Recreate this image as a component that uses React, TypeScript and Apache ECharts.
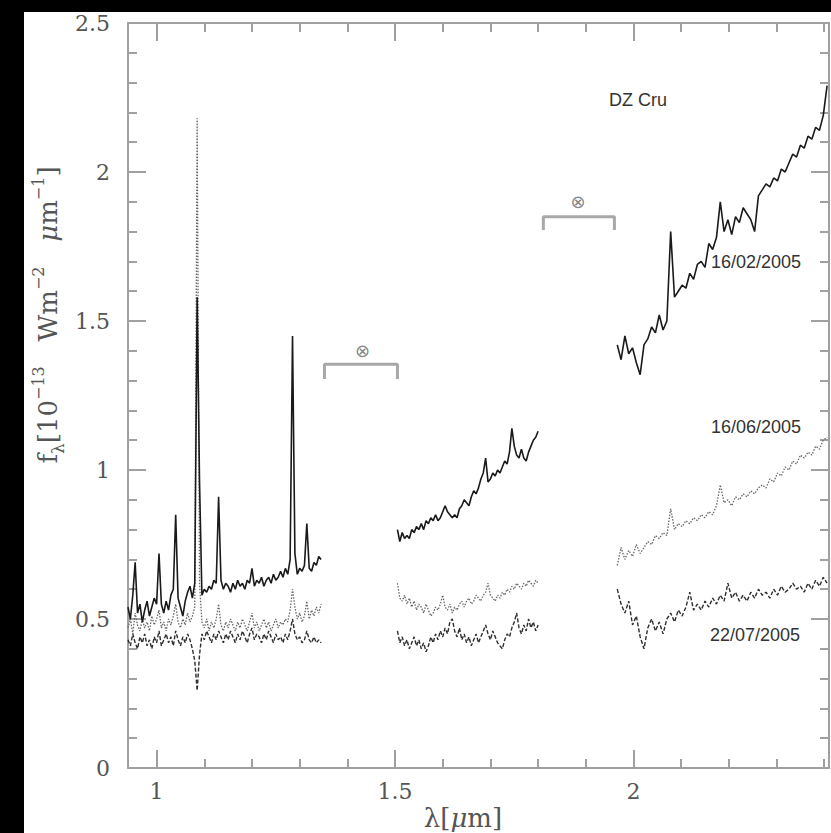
import React, { useEffect, useRef } from "react";
import * as echarts from "echarts";

// Wavelength grids (µm) for the three observed bands
const waveJ = [0.940,0.945,0.950,0.955,0.960,0.965,0.970,0.975,0.980,0.985,0.990,0.995,1.000,1.005,1.010,1.015,1.020,1.025,1.030,1.035,1.040,1.045,1.050,1.055,1.060,1.065,1.070,1.075,1.080,1.085,1.090,1.095,1.100,1.105,1.110,1.115,1.120,1.125,1.130,1.135,1.140,1.145,1.150,1.155,1.160,1.165,1.170,1.175,1.180,1.185,1.190,1.195,1.200,1.205,1.210,1.215,1.220,1.225,1.230,1.235,1.240,1.245,1.250,1.255,1.260,1.265,1.270,1.275,1.280,1.285,1.290,1.295,1.300,1.305,1.310,1.315,1.320,1.325,1.330,1.335,1.340,1.345];
const waveH = [1.505,1.510,1.515,1.520,1.525,1.530,1.535,1.540,1.545,1.550,1.555,1.560,1.565,1.570,1.575,1.580,1.585,1.590,1.595,1.600,1.605,1.610,1.615,1.620,1.625,1.630,1.635,1.640,1.645,1.650,1.655,1.660,1.665,1.670,1.675,1.680,1.685,1.690,1.695,1.700,1.705,1.710,1.715,1.720,1.725,1.730,1.735,1.740,1.745,1.750,1.755,1.760,1.765,1.770,1.775,1.780,1.785,1.790,1.795,1.800];
const waveK = [1.966,1.974,1.982,1.990,1.998,2.006,2.014,2.022,2.030,2.038,2.046,2.054,2.062,2.070,2.078,2.086,2.094,2.102,2.110,2.118,2.126,2.134,2.142,2.150,2.158,2.166,2.174,2.182,2.190,2.198,2.206,2.214,2.222,2.230,2.238,2.246,2.254,2.262,2.270,2.278,2.286,2.294,2.302,2.310,2.318,2.326,2.334,2.342,2.350,2.358,2.366,2.374,2.382,2.390,2.398,2.406];

// 16/02/2005 (solid)
const febJ = [0.54,0.50,0.58,0.69,0.52,0.55,0.49,0.53,0.56,0.51,
  0.54,0.57,0.55,0.72,0.55,0.52,0.56,0.53,0.58,0.60,
  0.85,0.57,0.54,0.51,0.56,0.59,0.61,0.57,0.62,1.58,
  0.96,0.58,0.60,0.59,0.61,0.60,0.63,0.62,0.91,0.63,
  0.60,0.62,0.61,0.59,0.62,0.60,0.63,0.61,0.62,0.60,
  0.63,0.62,0.67,0.61,0.63,0.62,0.64,0.61,0.63,0.64,
  0.62,0.65,0.63,0.64,0.66,0.64,0.67,0.65,0.70,1.45,
  0.72,0.65,0.67,0.66,0.68,0.82,0.67,0.66,0.69,0.68,
  0.71,0.70];
const febH = [0.80,0.76,0.79,0.77,0.78,0.77,0.80,0.79,0.81,0.80,
  0.82,0.80,0.83,0.82,0.84,0.83,0.85,0.83,0.84,0.86,
  0.88,0.86,0.85,0.84,0.85,0.84,0.87,0.88,0.90,0.89,
  0.88,0.91,0.93,0.92,0.94,0.97,0.99,1.04,0.96,0.97,
  0.99,0.98,1.00,0.99,1.01,1.03,1.02,1.06,1.14,1.08,
  1.05,1.04,1.07,1.04,1.03,1.06,1.08,1.10,1.11,1.13];
const febK = [1.42,1.37,1.45,1.39,1.41,1.36,1.32,1.42,1.44,1.48,
  1.46,1.52,1.47,1.50,1.80,1.58,1.60,1.62,1.61,1.66,
  1.64,1.69,1.70,1.68,1.76,1.74,1.78,1.90,1.80,1.84,
  1.79,1.85,1.83,1.88,1.86,1.84,1.80,1.92,1.94,1.96,
  1.95,1.98,1.97,2.01,2.00,2.03,2.06,2.05,2.09,2.08,
  2.12,2.11,2.15,2.14,2.19,2.29];

// 16/06/2005 (dotted)
const junJ = [0.47,0.50,0.45,0.52,0.48,0.46,0.50,0.47,0.49,0.46,
  0.51,0.48,0.50,0.53,0.47,0.49,0.46,0.50,0.48,0.51,
  0.55,0.49,0.47,0.50,0.48,0.52,0.49,0.51,0.54,2.18,
  0.62,0.49,0.47,0.50,0.46,0.49,0.47,0.50,0.55,0.48,
  0.46,0.49,0.47,0.50,0.48,0.46,0.49,0.47,0.50,0.48,
  0.46,0.49,0.52,0.47,0.49,0.46,0.48,0.50,0.47,0.49,
  0.46,0.48,0.50,0.47,0.49,0.48,0.50,0.49,0.53,0.60,
  0.54,0.50,0.52,0.49,0.51,0.56,0.50,0.53,0.51,0.54,
  0.52,0.55];
const junH = [0.62,0.57,0.56,0.58,0.55,0.57,0.54,0.56,0.53,0.55,
  0.54,0.52,0.55,0.53,0.51,0.52,0.54,0.53,0.55,0.58,
  0.54,0.53,0.55,0.52,0.54,0.53,0.55,0.56,0.54,0.56,
  0.57,0.55,0.56,0.58,0.57,0.56,0.58,0.59,0.62,0.58,
  0.57,0.56,0.58,0.57,0.59,0.58,0.60,0.59,0.61,0.60,
  0.62,0.61,0.60,0.62,0.61,0.63,0.62,0.61,0.63,0.62];
const junK = [0.68,0.74,0.70,0.73,0.71,0.75,0.72,0.74,0.76,0.75,
  0.78,0.77,0.79,0.78,0.87,0.80,0.82,0.81,0.83,0.82,
  0.84,0.83,0.85,0.84,0.86,0.85,0.88,0.95,0.89,0.90,
  0.88,0.91,0.90,0.92,0.91,0.93,0.92,0.94,0.95,0.94,
  0.97,0.96,0.99,0.98,1.01,1.00,1.03,1.02,1.05,1.04,
  1.06,1.05,1.08,1.07,1.10,1.11];

// 22/07/2005 (dashed)
const julJ = [0.43,0.41,0.45,0.42,0.40,0.44,0.42,0.45,0.41,0.43,
  0.40,0.44,0.42,0.46,0.41,0.43,0.45,0.42,0.44,0.41,
  0.46,0.43,0.41,0.44,0.42,0.45,0.43,0.40,0.36,0.26,
  0.38,0.45,0.43,0.46,0.44,0.42,0.45,0.43,0.46,0.44,
  0.42,0.45,0.43,0.46,0.44,0.42,0.45,0.43,0.46,0.44,
  0.42,0.45,0.47,0.43,0.45,0.44,0.42,0.45,0.43,0.46,
  0.44,0.42,0.45,0.43,0.44,0.42,0.45,0.43,0.46,0.50,
  0.45,0.43,0.44,0.42,0.43,0.46,0.43,0.42,0.44,0.42,
  0.43,0.42];
const julH = [0.46,0.42,0.44,0.41,0.43,0.40,0.42,0.44,0.41,0.43,
  0.40,0.42,0.39,0.41,0.44,0.42,0.45,0.43,0.46,0.44,
  0.47,0.45,0.49,0.50,0.46,0.44,0.47,0.43,0.45,0.42,
  0.44,0.41,0.43,0.45,0.42,0.44,0.46,0.48,0.45,0.43,
  0.46,0.44,0.42,0.41,0.40,0.43,0.45,0.44,0.47,0.49,
  0.52,0.47,0.45,0.48,0.46,0.50,0.47,0.49,0.46,0.48];
const julK = [0.60,0.55,0.52,0.56,0.48,0.51,0.44,0.40,0.47,0.50,
  0.46,0.49,0.45,0.50,0.52,0.49,0.53,0.51,0.54,0.59,
  0.53,0.55,0.53,0.56,0.54,0.57,0.55,0.58,0.56,0.62,
  0.57,0.59,0.56,0.58,0.56,0.59,0.57,0.60,0.58,0.59,
  0.57,0.60,0.58,0.61,0.59,0.60,0.62,0.60,0.61,0.59,
  0.62,0.60,0.63,0.61,0.64,0.62];

// Telluric brackets and their symbols (data coordinates)
const bracketA = [[1.352, 1.305], [1.352, 1.355], [1.505, 1.355], [1.505, 1.305]];
const bracketB = [[1.811, 1.805], [1.811, 1.85], [1.96, 1.85], [1.96, 1.805]];
const telluricSymbols = [[1.432, 1.40], [1.884, 1.90]];

// Axis ticks
const xMajorTicks = [1, 1.5, 2];
const xTickLabels = ["1", "1.5", "2"];
const xMinorTicks = [1.0, 1.1, 1.2, 1.3, 1.4, 1.5, 1.6, 1.7, 1.8, 1.9, 2.0, 2.1, 2.2, 2.3, 2.4];
const yMajorTicks = [0, 0.5, 1, 1.5, 2, 2.5];
const yTickLabels = ["0", "0.5", "1", "1.5", "2", "2.5"];
const yMinorTicks = [0.1, 0.2, 0.3, 0.4, 0.5, 0.6, 0.7, 0.8, 0.9, 1.0, 1.1, 1.2, 1.3, 1.4, 1.5, 1.6, 1.7, 1.8, 1.9, 2.0, 2.1, 2.2, 2.3, 2.4];

const pair = (w: number[], f: number[]) => w.map((x, i) => [x, f[i]]);

export default function App() {
  const ref = useRef<HTMLDivElement>(null);
  useEffect(() => {
    document.body.style.margin = "0";
    if (!ref.current) return;
    const chart = echarts.init(ref.current, null, { renderer: "svg" });
    const axisColor = "#a0a0a0";
    const lineSt = { color: axisColor, width: 2 };
    const serif = "DejaVu Serif";
    const tickFont = { fontFamily: serif, fontSize: 22, color: "#555" };
    const xBase = { type: "value", min: 0.94, max: 2.41, splitLine: { show: false } };
    const yBase = { type: "value", min: 0, max: 2.5, splitLine: { show: false } };
    const mkX = (pos: string, major: boolean, labels: boolean) => ({
      ...xBase,
      position: pos,
      axisLine: { show: major, onZero: false, lineStyle: lineSt },
      axisTick: { show: true, inside: true, length: major ? 18 : 9, customValues: major ? xMajorTicks : xMinorTicks, lineStyle: lineSt },
      axisLabel: labels
        ? { show: true, customValues: xMajorTicks, margin: 12, ...tickFont, formatter: (v: number) => xTickLabels[xMajorTicks.indexOf(v)] ?? "" }
        : { show: false },
    });
    const mkY = (pos: string, major: boolean, labels: boolean) => ({
      ...yBase,
      position: pos,
      axisLine: { show: major, onZero: false, lineStyle: lineSt },
      axisTick: { show: true, inside: true, length: major ? 18 : 9, customValues: major ? yMajorTicks : yMinorTicks, lineStyle: lineSt },
      axisLabel: labels
        ? { show: true, customValues: yMajorTicks, margin: 18, ...tickFont, formatter: (v: number) => yTickLabels[yMajorTicks.indexOf(v)] ?? "" }
        : { show: false },
    });

    const spec = (data: number[][], color: string, type: any, width: number) => ({
      type: "line",
      data,
      symbol: "none",
      silent: true,
      xAxisIndex: 0,
      yAxisIndex: 0,
      lineStyle: { color, width, type },
      z: 3,
    });
    const feb = (d: number[][]) => spec(d, "#1a1a1a", "solid", 1.6);
    const jun = (d: number[][]) => spec(d, "#666", [1.5, 1.5], 1.3);
    const jul = (d: number[][]) => spec(d, "#2e2e2e", [4, 2], 1.4);
    const bracket = (d: number[][]) => ({
      type: "line",
      data: d,
      symbol: "none",
      silent: true,
      lineStyle: { color: "#a8a8a8", width: 3 },
      z: 2,
    });

    const txt = (x: number, y: number, text: string, size: number) => ({
      type: "text",
      x,
      y,
      style: { text, fontFamily: "Liberation Sans", fontSize: size, fill: "#333", align: "center", verticalAlign: "middle" },
    });

    chart.setOption({
      animation: false,
      backgroundColor: "#fff",
      grid: { left: 104, right: 2, top: 9, bottom: 65, containLabel: false },
      xAxis: [mkX("bottom", true, true), mkX("bottom", false, false), mkX("top", true, false), mkX("top", false, false)],
      yAxis: [mkY("left", true, true), mkY("left", false, false), mkY("right", true, false), mkY("right", false, false)],
      series: [
        jul(pair(waveJ, julJ)), jul(pair(waveH, julH)), jul(pair(waveK, julK)),
        jun(pair(waveJ, junJ)), jun(pair(waveH, junH)), jun(pair(waveK, junK)),
        feb(pair(waveJ, febJ)), feb(pair(waveH, febH)), feb(pair(waveK, febK)),
        bracket(bracketA), bracket(bracketB),
        {
          type: "scatter",
          data: telluricSymbols,
          symbolSize: 0,
          silent: true,
          label: { show: true, position: "inside", formatter: "⊗", fontFamily: "DejaVu Sans", fontSize: 18, color: "#666" },
        },
      ],
      graphic: [
        txt(614, 88, "DZ Cru", 18),
        txt(732, 250, "16/02/2005", 18),
        txt(732, 415, "16/06/2005", 18),
        txt(731, 623, "22/07/2005", 18),
        {
          type: "text",
          x: 24,
          y: 303,
          rotation: Math.PI / 2,
          style: {
            text: "{a|f}{s|λ}{a|[10}{p|−13}{a|   Wm}{p|−2}{a|   }{i|μ}{a|m}{p|−1}{a|]}",
            align: "center",
            verticalAlign: "middle",
            fill: "#555",
            rich: {
              a: { fontFamily: serif, fontSize: 26, lineHeight: 36, verticalAlign: "middle", fill: "#555" },
              i: { fontFamily: serif, fontStyle: "italic", fontSize: 26, lineHeight: 36, verticalAlign: "middle", fill: "#555" },
              s: { fontFamily: serif, fontSize: 17, lineHeight: 36, verticalAlign: "bottom", fill: "#555" },
              p: { fontFamily: serif, fontSize: 16, lineHeight: 36, verticalAlign: "top", fill: "#555" },
            },
          },
        },
        {
          type: "text",
          x: 439,
          y: 806,
          style: {
            text: "{a|λ[}{i|μ}{a|m]}",
            align: "center",
            verticalAlign: "middle",
            rich: {
              a: { fontFamily: serif, fontSize: 26, fill: "#555" },
              i: { fontFamily: serif, fontStyle: "italic", fontSize: 26, fill: "#555" },
            },
          },
        },
      ],
    });
    return () => chart.dispose();
  }, []);

  return (
    <div style={{ position: "relative", width: 831, height: 833, background: "#000" }}>
      <div ref={ref} style={{ position: "absolute", left: 24, top: 12, width: 807, height: 821, background: "#fff" }} />
    </div>
  );
}
